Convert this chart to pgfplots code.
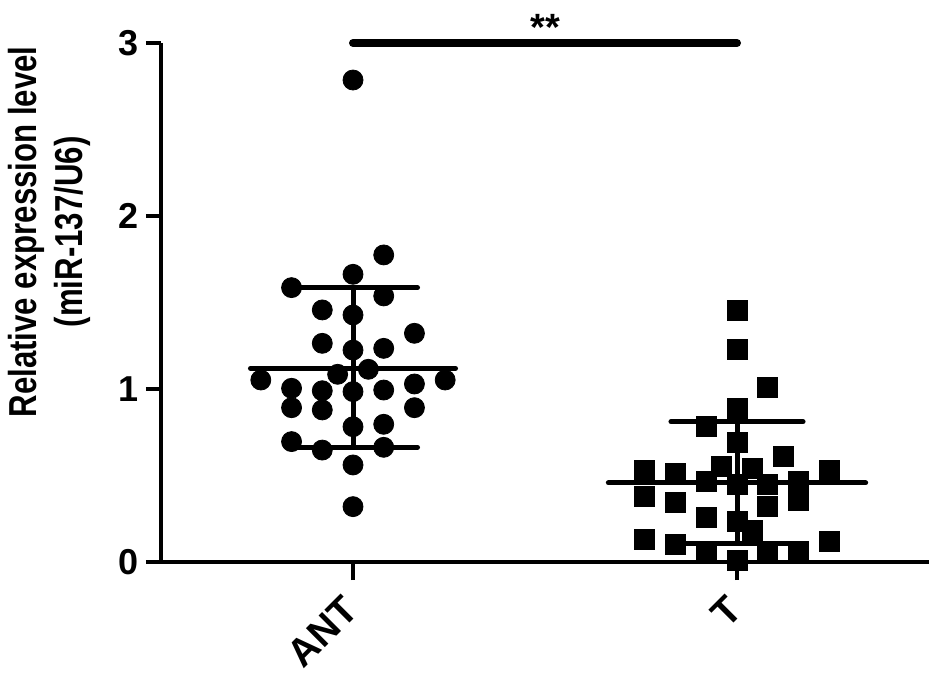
\documentclass[border=0pt]{standalone}
\usepackage{pgfplots}
\pgfplotsset{compat=1.18}
\usepackage{fontspec}
\setmainfont{Liberation Sans}

\begin{document}
\begin{tikzpicture}
\path[use as bounding box] (-80.5pt,-61.5pt) rectangle (392pt,281pt);
\begin{axis}[
    width=384pt, height=259.5pt,
    scale only axis,
    clip=false,
    xmin=0.5, xmax=2.5,
    ymin=0, ymax=3,
    axis x line=bottom, axis y line=left,
    axis line style={-, line width=2pt},
    tick align=outside,
    ytick={0,1,2,3},
    xtick={1,2},
    xticklabels={\rotatebox{45}{ANT},\rotatebox{45}{T}},
    major tick length=7.5pt,
    tick style={line width=2pt, black},
    xtick style={/pgfplots/major tick length=9pt},
    /pgf/number format/assume math mode=true,
    yticklabel style={font=\fontsize{18}{20}\selectfont\bfseries},
    xticklabel style={font=\fontsize{19.5}{21}\selectfont\bfseries, anchor=north east,
        inner sep=0pt, xshift=4pt, yshift=-8pt},
    ylabel={\scalebox{0.8}[1]{\begin{tabular}{@{}c@{}}Relative expression level\\(miR-137/U6)\end{tabular}}},
    ylabel style={at={(rel axis cs:0,0.636)}, anchor=center, yshift=55.5pt,
        font=\fontsize{19.5}{23}\selectfont\bfseries},
]
    % ANT group
    \addplot[only marks, mark=*, mark size=5pt, black] coordinates {
        (1.00,2.786) (1.08,1.775) (1.00,1.663) (0.84,1.586) (1.08,1.538)
        (0.92,1.457) (1.00,1.428) (1.16,1.322) (0.92,1.264) (1.08,1.235)
        (1.00,1.225) (0.96,1.085) (1.04,1.114) (0.76,1.052) (1.24,1.052)
        (0.84,1.004) (0.92,0.990) (1.00,0.985) (1.08,0.994) (1.16,1.029)
        (0.84,0.892) (0.92,0.879) (1.16,0.892) (1.08,0.796) (1.00,0.782)
        (0.84,0.696) (0.92,0.647) (1.08,0.663) (1.00,0.561) (1.00,0.320)
    };
    % T group
    \addplot[only marks, mark=square*, mark size=5pt, black] coordinates {
        (2.00,1.453) (2.00,1.231) (2.08,1.010) (2.00,0.888) (1.92,0.782)
        (2.00,0.690) (2.12,0.613) (1.76,0.528) (1.84,0.513) (1.96,0.551)
        (2.04,0.541) (2.24,0.528) (1.92,0.468) (2.00,0.449) (2.08,0.449)
        (2.16,0.468) (1.76,0.382) (1.84,0.343) (2.08,0.320) (2.16,0.358)
        (1.92,0.258) (2.00,0.233) (2.04,0.185) (1.76,0.131) (1.84,0.104)
        (2.24,0.121) (1.92,0.060) (2.08,0.050) (2.16,0.060) (2.00,0.012)
    };
    % mean and SD
    \addplot[line width=2.5pt, line cap=round] coordinates {(0.733,1.12) (1.267,1.12)};
    \addplot[line width=2.5pt, line cap=round] coordinates {(0.832,1.586) (1.168,1.586)};
    \addplot[line width=2.5pt, line cap=round] coordinates {(0.832,0.663) (1.168,0.663)};
    \addplot[line width=2.5pt] coordinates {(1,0.663) (1,1.586)};
    \addplot[line width=2.5pt, line cap=round] coordinates {(1.665,0.458) (2.335,0.458)};
    \addplot[line width=2.5pt, line cap=round] coordinates {(1.828,0.811) (2.172,0.811)};
    \addplot[line width=2.5pt, line cap=round] coordinates {(1.828,0.108) (2.172,0.108)};
    \addplot[line width=2.5pt] coordinates {(2,0.108) (2,0.811)};
    % significance
    \addplot[line width=4pt, line cap=round] coordinates {(1,3) (2,3)};
    \node[anchor=base, font=\fontsize{19}{21}\selectfont\bfseries, inner sep=0pt, yshift=1.5pt] at (axis cs:1.5,3) {**};
\end{axis}
\end{tikzpicture}
\end{document}
